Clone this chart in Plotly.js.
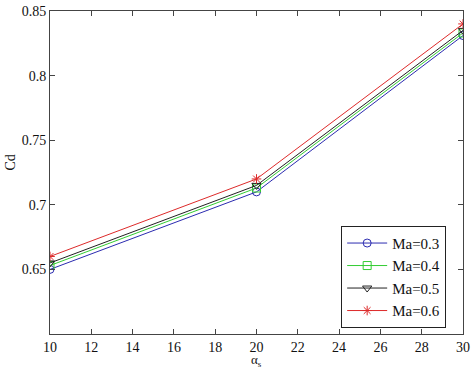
<!DOCTYPE html>
<html><head><meta charset="utf-8">
<script src="https://cdn.plot.ly/plotly-3.0.1.min.js"></script>
<style>body{margin:0;background:#fff}#c{width:471px;height:368px}</style>
</head><body><div id="c"></div>
<script>
var alpha = [10, 20, 30];
var ma03 = [0.650, 0.710, 0.831];
var ma04 = [0.653, 0.713, 0.833];
var ma05 = [0.655, 0.715, 0.835];
var ma06 = [0.660, 0.720, 0.840];
var names = ['Ma=0.3', 'Ma=0.4', 'Ma=0.5', 'Ma=0.6'];
var series = [ma03, ma04, ma05, ma06];
var colors = ['#2b2bb0', '#33cc33', '#222222', '#dd2a2a'];
var symbols = ['circle-open', 'square-open', 'triangle-down-open', 'asterisk-open'];
var traces = series.map(function(s, i){
  return {x: alpha, y: s, name: names[i], mode: 'lines+markers', type: 'scatter',
    line: {color: colors[i], width: 1},
    marker: {symbol: symbols[i], size: 8, color: colors[i], line: {color: colors[i], width: 1}}};
});
var fam = 'Liberation Serif';
var font = {family: fam, size: 14, color: '#111'};
var axis = {showgrid: false, zeroline: false, showline: true, mirror: 'ticks', linecolor: '#444', linewidth: 1,
  ticks: 'inside', ticklen: 5, tickcolor: '#444', tickfont: font};
var layout = {
  width: 471, height: 368, margin: {l: 50, r: 8, t: 11, b: 34},
  paper_bgcolor: '#fff', plot_bgcolor: '#fff', font: font, showlegend: true,
  xaxis: Object.assign({}, axis, {range: [10, 30], tickvals: [10,12,14,16,18,20,22,24,26,28,30]}),
  yaxis: Object.assign({}, axis, {range: [0.6, 0.85], tickvals: [0.65,0.7,0.75,0.8,0.85],
    ticktext: ['0.65','0.7','0.75','0.8','0.85']}),
  annotations: [
    {text: 'α<sub>s</sub>', xref: 'paper', yref: 'paper', x: 0.5, y: -0.083, xanchor: 'center', yanchor: 'middle',
      showarrow: false, font: {family: fam, size: 13, color: '#111'}},
    {text: 'Cd', xref: 'paper', yref: 'paper', x: -0.095, y: 0.53, xanchor: 'center', yanchor: 'middle',
      textangle: -90, showarrow: false, font: {family: fam, size: 14, color: '#111'}}
  ],
  legend: {x: 0.705, y: 0.335, xanchor: 'left', yanchor: 'top', bgcolor: '#fff', bordercolor: '#222', borderwidth: 1,
    font: {family: fam, size: 15, color: '#111'}, tracegroupgap: 0, itemwidth: 40}
};
Plotly.newPlot('c', traces, layout, {displayModeBar: false, staticPlot: true});
</script></body></html>
